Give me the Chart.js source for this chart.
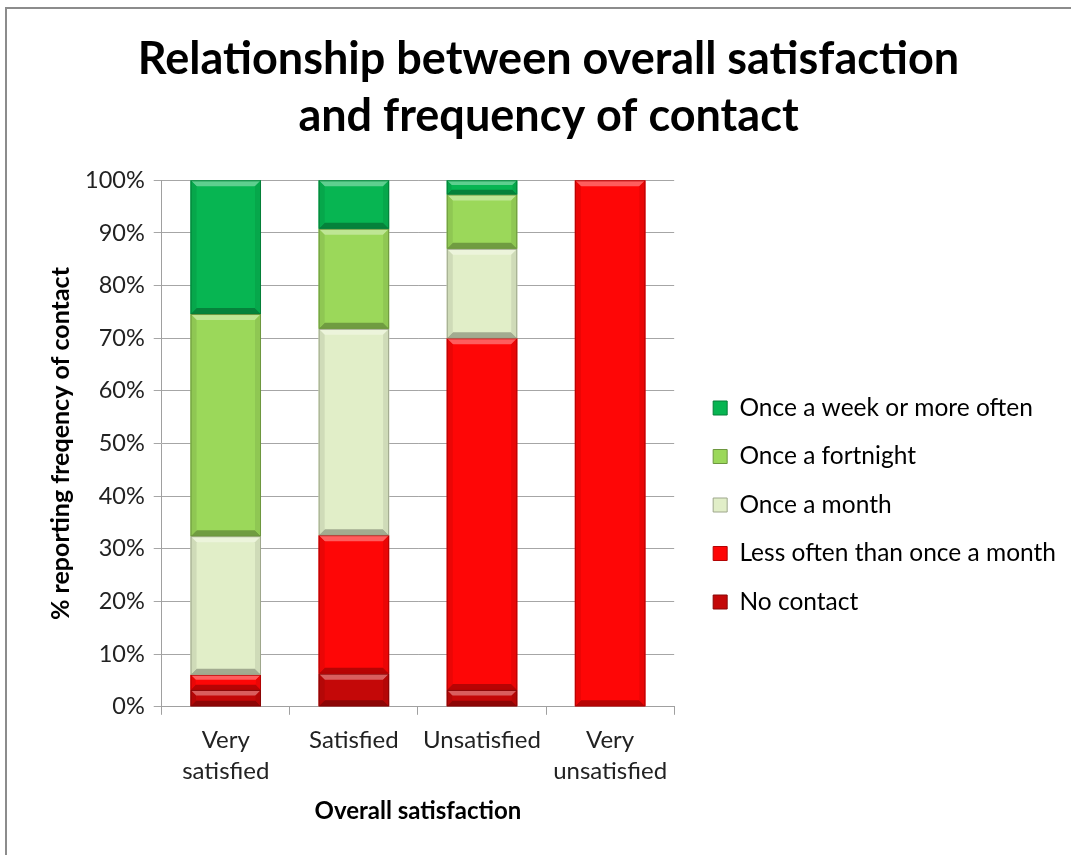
<!DOCTYPE html>
<html>
<head>
<meta charset="utf-8">
<script src="https://cdn.jsdelivr.net/npm/chart.js@4/dist/chart.umd.min.js"></script>
<style>
  html, body { margin: 0; padding: 0; background: #fff; }
  #wrap { position: relative; width: 1071px; height: 855px; overflow: hidden; }
  #frame { position: absolute; left: 5px; top: 7px; width: 1080px; height: 900px;
           border-top: 2px solid #8c8c8c; border-left: 2px solid #8c8c8c; box-sizing: border-box; }
  canvas { position: absolute; left: 0; top: 0; }
</style>
</head>
<body>
<div id="wrap">
  <div id="frame"></div>
  <canvas id="chart" width="1071" height="855"></canvas>
</div>
<script>
// Categories along the x axis
const categories = [['Very', 'satisfied'], 'Satisfied', 'Unsatisfied', ['Very', 'unsatisfied']];

// Share of respondents (%) in each contact-frequency band, per satisfaction level
const noContact  = [3.2, 6.3, 3.2, 0];
const lessOften  = [2.9, 26.3, 66.8, 100];
const onceMonth  = [26.3, 39.2, 17.0, 0];
const fortnight  = [42.2, 19.0, 10.3, 0];
const weekly     = [25.4, 9.2, 2.7, 0];

const yTicks = [0, 10, 20, 30, 40, 50, 60, 70, 80, 90, 100];

const FONT = 'Lato, "Open Sans", sans-serif';

function hexToRgb(h) {
  const n = parseInt(h.slice(1), 16);
  return [(n >> 16) & 255, (n >> 8) & 255, n & 255];
}
function mix(hex, target, amt) {
  const c = hexToRgb(hex);
  const t = target === 'white' ? [255, 255, 255] : [0, 0, 0];
  const r = c.map((v, i) => Math.round(v + (t[i] - v) * amt));
  return `rgb(${r[0]},${r[1]},${r[2]})`;
}

// Bevelled look on each bar segment: light top edge, dark bottom edge, shaded sides
const bevelPlugin = {
  id: 'bevel',
  afterDatasetsDraw(chart) {
    const ctx = chart.ctx;
    chart.data.datasets.forEach((ds, di) => {
      const meta = chart.getDatasetMeta(di);
      if (meta.hidden) return;
      meta.data.forEach(bar => {
        const p = bar.getProps(['x', 'y', 'base', 'width'], true);
        const top = Math.min(p.y, p.base), bottom = Math.max(p.y, p.base);
        const h = bottom - top;
        if (h < 0.5) return;
        const l = p.x - p.width / 2, r = p.x + p.width / 2;
        const b = Math.min(6, h / 3);
        const base = ds.backgroundColor;
        ctx.save();
        ctx.fillStyle = mix(base, 'white', 0.35);
        ctx.beginPath();
        ctx.moveTo(l, top); ctx.lineTo(r, top); ctx.lineTo(r - b, top + b); ctx.lineTo(l + b, top + b);
        ctx.closePath(); ctx.fill();
        ctx.fillStyle = mix(base, 'black', 0.28);
        ctx.beginPath();
        ctx.moveTo(l, bottom); ctx.lineTo(r, bottom); ctx.lineTo(r - b, bottom - b); ctx.lineTo(l + b, bottom - b);
        ctx.closePath(); ctx.fill();
        ctx.fillStyle = mix(base, 'black', 0.08);
        ctx.beginPath();
        ctx.moveTo(l, top); ctx.lineTo(l + b, top + b); ctx.lineTo(l + b, bottom - b); ctx.lineTo(l, bottom);
        ctx.closePath(); ctx.fill();
        ctx.beginPath();
        ctx.moveTo(r, top); ctx.lineTo(r - b, top + b); ctx.lineTo(r - b, bottom - b); ctx.lineTo(r, bottom);
        ctx.closePath(); ctx.fill();
        ctx.strokeStyle = mix(base, 'black', 0.3);
        ctx.lineWidth = 1;
        ctx.strokeRect(l + 0.5, top + 0.5, p.width - 1, h - 1);
        ctx.restore();
      });
    });
  }
};

// Push the legend block a little right of the plot and down towards the lower half
const legendPlacement = {
  id: 'legendPlacement',
  afterLayout(chart) {
    const lg = chart.legend;
    if (!lg) return;
    lg.left += 15; lg.right += 15;
    lg.top += 92; lg.bottom += 92;
  }
};

const series = [
  { label: 'No contact',                   data: noContact, color: '#c40808' },
  { label: 'Less often than once a month', data: lessOften, color: '#fe0606' },
  { label: 'Once a month',                 data: onceMonth, color: '#e1eec8' },
  { label: 'Once a fortnight',             data: fortnight, color: '#9bd85a' },
  { label: 'Once a week or more often',    data: weekly,    color: '#07b552' }
];

new Chart(document.getElementById('chart'), {
  type: 'bar',
  data: {
    labels: categories,
    datasets: series.map(s => ({
      label: s.label,
      data: s.data,
      backgroundColor: s.color,
      borderWidth: 0,
      categoryPercentage: 1.0,
      barPercentage: 0.55
    }))
  },
  options: {
    responsive: false,
    animation: false,
    layout: { padding: { left: 46, right: 20, top: 0, bottom: 29 } },
    plugins: {
      title: {
        display: true,
        text: ['Relationship between overall satisfaction', 'and frequency of contact'],
        font: { family: FONT, size: 45, weight: 'bold', lineHeight: 1.27 },
        color: '#000',
        padding: { top: 31, bottom: 35 }
      },
      legend: {
        position: 'right',
        reverse: true,
        maxWidth: 420,
        labels: {
          font: { family: FONT, size: 24.5 },
          color: '#000',
          boxWidth: 14,
          boxHeight: 14,
          padding: 24,
          generateLabels(chart) {
            return chart.data.datasets.map((ds, i) => ({
              text: ds.label,
              fillStyle: ds.backgroundColor,
              strokeStyle: mix(ds.backgroundColor, 'black', 0.3),
              lineWidth: 1,
              hidden: false,
              datasetIndex: i
            }));
          }
        }
      },
      tooltip: { enabled: false }
    },
    scales: {
      x: {
        stacked: true,
        grid: { drawOnChartArea: false, drawTicks: true, tickLength: 8, color: '#a0a0a0', offset: true },
        border: { color: '#a0a0a0', width: 1 },
        ticks: { font: { family: FONT, size: 24, lineHeight: 1.3 }, color: '#222', padding: 10, maxRotation: 0 },
        title: {
          display: true,
          text: 'Overall satisfaction',
          font: { family: FONT, size: 24, weight: 'bold', lineHeight: 1.2 },
          color: '#000',
          padding: { top: 0, bottom: 0 }
        }
      },
      y: {
        stacked: true,
        min: 0,
        max: 100,
        afterBuildTicks(scale) { scale.ticks = yTicks.map(v => ({ value: v })); },
        grid: { color: '#a6a6a6', lineWidth: 1, tickLength: 8 },
        border: { color: '#a0a0a0', width: 1 },
        ticks: {
          font: { family: FONT, size: 23.5 },
          color: '#222',
          padding: 9,
          callback: v => v + '%'
        },
        title: {
          display: true,
          text: '% reporting freqency of contact',
          font: { family: FONT, size: 25, weight: 'bold', lineHeight: 1.2 },
          color: '#000',
          padding: { top: 0, bottom: 0 }
        }
      }
    }
  },
  plugins: [bevelPlugin, legendPlacement]
});
</script>
</body>
</html>
